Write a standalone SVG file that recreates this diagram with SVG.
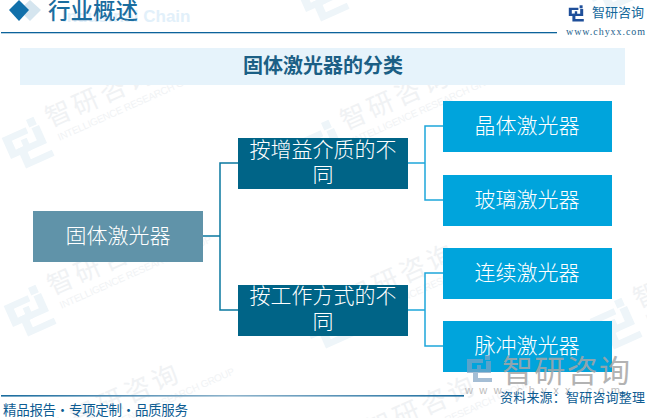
<svg xmlns="http://www.w3.org/2000/svg" width="647" height="418" viewBox="0 0 647 418">
<style>
text{font-family:"Noto Sans CJK SC","Liberation Sans",sans-serif}
.n{fill:#fff;font-size:21px;text-anchor:middle;font-weight:300}
.c1{fill:none;stroke:#0a78a0;stroke-width:1.5}
.c2{fill:none;stroke:#1ea6da;stroke-width:1.5}
.wm{fill:#f0f2f4;font-size:26px;font-weight:400}
.wme{fill:#f1f3f5;font-size:10px;font-family:"Liberation Sans",sans-serif}
.lg{fill:#eef5f9}
</style>
<defs>
<g id="logo"><path d="M-24 -16H8V-8H-14V4H-4V-4H4V12H-24Z"/><rect x="12" y="-24" width="10" height="10"/><path d="M12 -10H22V14H-4V24H24V32H-14V6H12Z" transform="translate(2,-2)"/></g>
<g id="wmk"><use href="#logo" class="lg" transform="scale(.82)"/>
<text class="wm" x="29" y="-3" textLength="115">智研咨询</text>
<text class="wme" x="32" y="13" textLength="165">INTELLIGENCE RESEARCH GROUP</text></g>
<linearGradient id="fg" x1="0" x2="1" y1="0" y2="0"><stop offset="0" stop-color="#1a6c9e"/><stop offset=".5" stop-color="#8fb4cc"/><stop offset="1" stop-color="#1a6c9e"/></linearGradient>
</defs>
<rect width="647" height="418" fill="#fff"/>
<g id="watermarks">
<use href="#wmk" transform="translate(25,142) rotate(-24)"/>
<use href="#wmk" transform="translate(27,310) rotate(-24)"/>
<use href="#wmk" transform="translate(320,145) rotate(-24)"/>
<use href="#wmk" transform="translate(325,322) rotate(-24)"/>
<use href="#wmk" transform="translate(613,323) rotate(-24)"/>
<use href="#wmk" transform="translate(50,442) rotate(-24)"/>
<use href="#wmk" transform="translate(346,454) rotate(-24)"/>
<use href="#wmk" transform="translate(320,-5) rotate(-24)"/>
<use href="#wmk" transform="translate(607,-15) rotate(-24)"/>
</g>
<g id="header">
<path d="M30 0L41 10L30 21L19 10Z" fill="#d5e5ef"/>
<path d="M19 0L29 10L19 21L9 10Z" fill="#1170aa"/>
<text x="62" y="22" font-size="17" font-weight="700" style="font-family:'Liberation Sans',sans-serif" fill="#e2f0fa">Industrial Chain</text>
<text x="48" y="18.5" font-size="22.5" font-weight="500" fill="#1b6d9f">行业概述</text>
<rect x="1" y="32" width="556" height="1.3" fill="#0c639b"/>
<g transform="translate(576,12.5) scale(.3)" fill="#1f4f9a"><use href="#logo"/></g>
<text x="592" y="17" font-size="13" fill="#13679b" textLength="52">智研咨询</text>
<text x="566" y="35" font-size="10" style="font-family:'Liberation Serif',serif" fill="#23628c" textLength="79">www.chyxx.com</text>
</g>
<g id="title">
<rect x="20" y="48" width="605" height="37" fill="#e6f3fb"/>
<text x="323" y="73" font-size="20" font-weight="700" text-anchor="middle" fill="#1b5f85">固体激光器的分类</text>
</g>
<g id="connectors">
<path class="c1" d="M203 236H220M238 163H220V310H238"/>
<path class="c2" d="M408 163H425M443 126H425V200H443"/>
<path class="c2" d="M408 310H425M443 273H425V346H443"/>
</g>
<g id="node-root"><rect x="33" y="211" width="170" height="51" fill="#6093a9"/><text class="n" x="118" y="243">固体激光器</text></g>
<g id="node-gain"><rect x="238" y="138" width="170" height="51" fill="#006487"/><text class="n" x="323" y="157">按增益介质的不</text><text class="n" x="323" y="182">同</text></g>
<g id="node-mode"><rect x="238" y="285" width="170" height="51" fill="#006487"/><text class="n" x="323" y="303">按工作方式的不</text><text class="n" x="323" y="329">同</text></g>
<g id="node-crystal"><rect x="443" y="101" width="169" height="51" fill="#00a4dc"/><text class="n" x="527" y="133">晶体激光器</text></g>
<g id="node-glass"><rect x="443" y="175" width="169" height="51" fill="#00a4dc"/><text class="n" x="527" y="207">玻璃激光器</text></g>
<g id="node-cw"><rect x="443" y="248" width="169" height="51" fill="#00a4dc"/><text class="n" x="527" y="280">连续激光器</text></g>
<g id="node-pulse"><rect x="443" y="321" width="169" height="51" fill="#00a4dc"/><text class="n" x="527" y="353">脉冲激光器</text></g>
<g id="footer">
<g transform="translate(479,367) scale(.5)" fill="#7fa3c4" opacity=".7"><use href="#logo"/></g>
<text x="502" y="382" font-size="31" fill="#a6a6a6" opacity=".85" textLength="128" lengthAdjust="spacing">智研咨询</text>
<text x="465" y="394" font-size="11" style="font-family:'Liberation Sans',sans-serif" fill="#bdbdbd" textLength="155">www.chyxx.com</text>
<rect x="1" y="395" width="463" height="1.6" fill="url(#fg)"/>
<text x="3" y="415" font-size="13.5" fill="#0d5c92" textLength="185">精品报告・专项定制・品质服务</text>
<text x="500" y="402" font-size="13" fill="#0d5c92" textLength="145">资料来源：智研咨询整理</text>
</g>
</svg>
